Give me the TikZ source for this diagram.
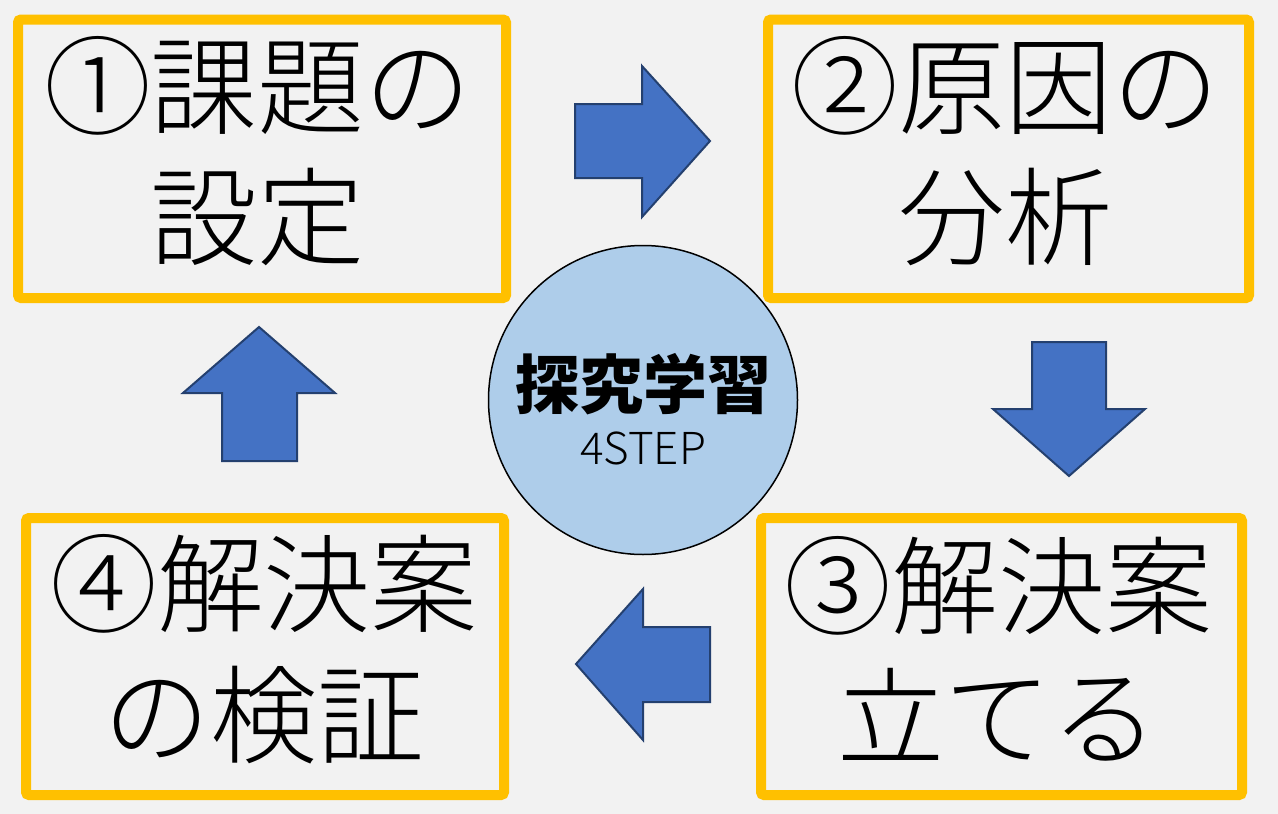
\documentclass[tikz,border=0pt]{standalone}
\usepackage{fontspec}
\newfontfamily\jpl{Noto Sans CJK JP Light}
\newfontfamily\jpk{Noto Sans CJK JP Black}
\definecolor{bg}{HTML}{F2F2F2}
\definecolor{gold}{HTML}{FFC000}
\definecolor{arrowfill}{HTML}{4472C4}
\definecolor{arrowline}{HTML}{24406F}
\definecolor{corefill}{HTML}{AECDEA}
\begin{document}
\begin{tikzpicture}[x=1pt,y=-1pt,
  stepbox/.style={draw=gold,line width=10pt,rounded corners=3pt,fill=bg},
  steptext/.style={align=center,inner sep=0pt,font=\jpl\fontsize{107}{131}\selectfont},
  blockarrow/.style={fill=arrowfill,draw=arrowline,line width=2pt,line join=miter}]
\fill[bg] (0,0) rectangle (1278,814);
\useasboundingbox (0,0) rectangle (1278,814);
% boxes
\draw[stepbox] (18,19.5) rectangle (506,298);
\draw[stepbox] (768,19.5) rectangle (1249,298);
\draw[stepbox] (761,518) rectangle (1242,795);
\draw[stepbox] (26,518) rectangle (504,795);
\node[steptext] (t1) at (258,151) {①課題の\\設定};
\node[steptext] (t2) at (1005,151) {②原因の\\分析};
\node[steptext] (t3) at (998,649) {③解決案\\立てる};
\node[steptext] (t4) at (264,649) {④解決案\\の検証};
% center
\node[circle,draw=black,line width=1.5pt,fill=corefill,minimum size=309pt,inner sep=0pt] (core) at (643,400) {};
\node[font=\jpk\fontsize{64}{64}\selectfont,inner sep=0pt] (title) at (643,384) {探究学習};
\node[font=\jpl\fontsize{44}{44}\selectfont,inner sep=0pt] (sub) at (643,448) {4STEP};
% arrows
\draw[blockarrow] (575,104) -- (642,104) -- (642,66) -- (710,141) -- (642,217) -- (642,178) -- (575,178) -- cycle;
\draw[blockarrow] (1032,342) -- (1106,342) -- (1106,409) -- (1145,409) -- (1069,476) -- (993,409) -- (1032,409) -- cycle;
\draw[blockarrow] (710,627) -- (643,627) -- (643,589) -- (576,664) -- (643,740) -- (643,702) -- (710,702) -- cycle;
\draw[blockarrow] (222,461) -- (222,393) -- (183,393) -- (259,327) -- (335,393) -- (297,393) -- (297,461) -- cycle;
\end{tikzpicture}
\end{document}
